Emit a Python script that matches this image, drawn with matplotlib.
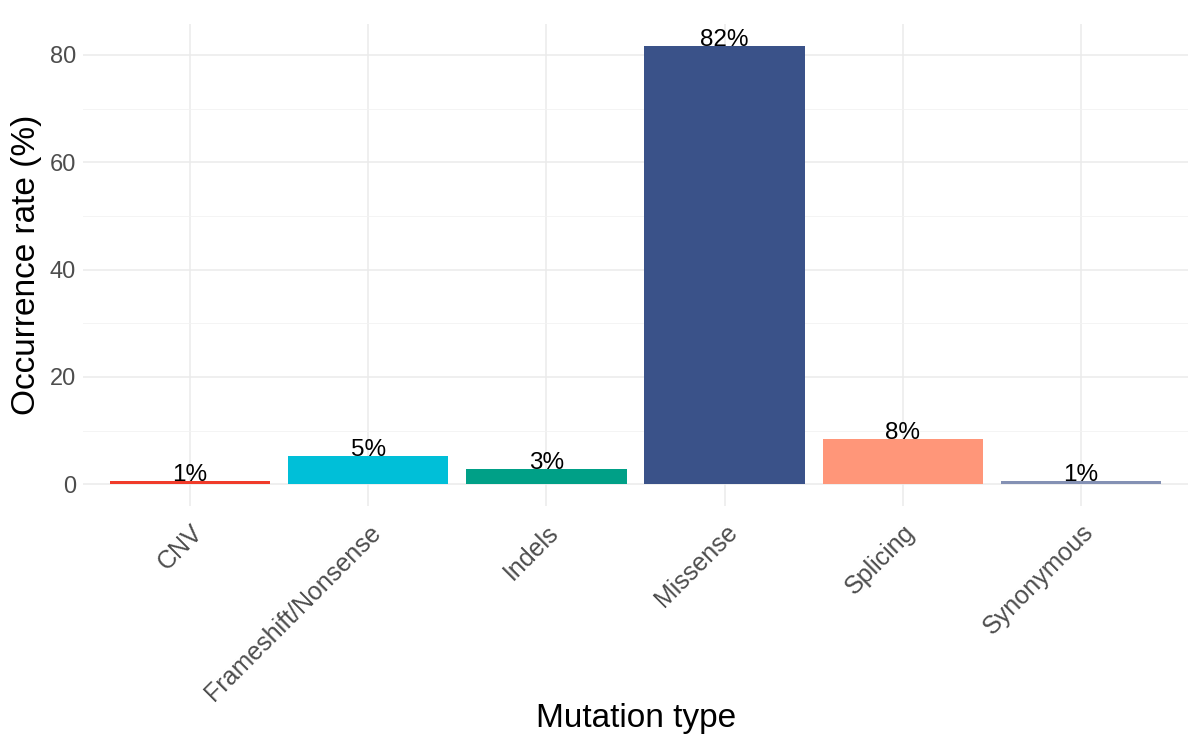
import matplotlib.pyplot as plt
import numpy as np

plt.rcParams["font.family"] = ["Liberation Sans", "DejaVu Sans"]

categories = ["CNV", "Frameshift/Nonsense", "Indels", "Missense", "Splicing", "Synonymous"]
rates = [0.7, 5.3, 2.95, 81.6, 8.4, 0.7]
labels = ["1%", "5%", "3%", "82%", "8%", "1%"]
colors = ["#F03B2A", "#00BFD8", "#00A087", "#3A5289", "#FF9679", "#8491B4"]

fig = plt.figure(figsize=(11.88, 7.38), dpi=100)
ax = fig.add_axes([0.07, 0.314, 0.93, 0.653])

x = np.arange(len(categories))
ax.bar(x, rates, width=0.9, color=colors, zorder=2)
for xi, r, lab in zip(x, rates, labels):
    ax.text(xi, r, lab, ha="center", va="baseline", fontsize=17.5, color="black", zorder=3)

ax.set_xlim(-0.6, len(categories) - 0.4)
ymax = max(rates)
ax.set_ylim(-0.05 * ymax, ymax * 1.05)
ax.set_yticks([0, 20, 40, 60, 80])
ax.set_yticks([10, 30, 50, 70], minor=True)
ax.set_xticks(x)
ax.set_xticklabels(categories, rotation=45, ha="right", va="top", rotation_mode="anchor")

ax.grid(True, which="major", color="#EBEBEB", lw=1.1, zorder=0)
ax.grid(True, which="minor", axis="y", color="#F2F2F2", lw=0.6, zorder=0)
ax.tick_params(axis="y", which="both", length=0, labelsize=17, labelcolor="#4D4D4D", pad=5)
ax.tick_params(axis="x", which="both", length=0, labelsize=18, labelcolor="#4D4D4D", pad=10)
for s in ax.spines.values():
    s.set_visible(False)

ax.set_xlabel("Mutation type", fontsize=24, va="center")
ax.set_ylabel("Occurrence rate (%)", fontsize=24, va="center")
ax.xaxis.set_label_coords(0.5, -0.44)
ax.yaxis.set_label_coords(-0.051, 0.5)

fig.savefig("out.png", dpi=100)
